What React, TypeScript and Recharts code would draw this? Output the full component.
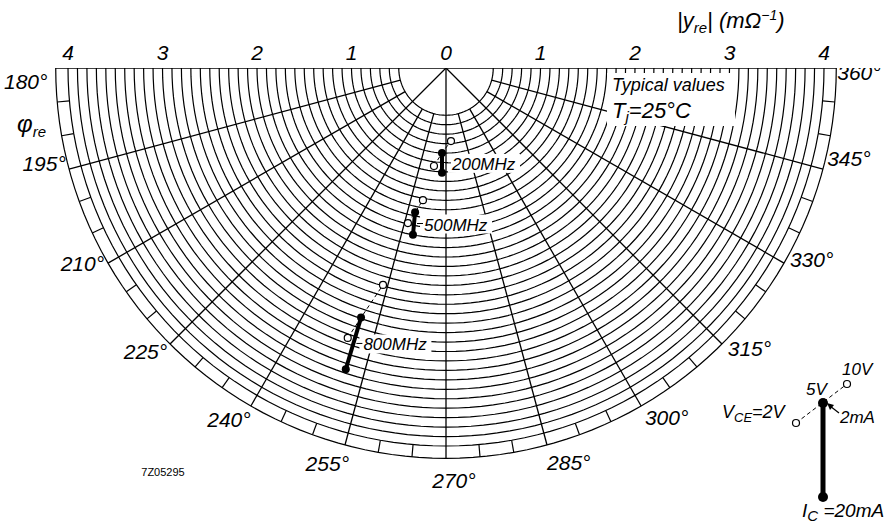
import React from "react";
import { ScatterChart, Scatter, XAxis, YAxis } from "recharts";

// |y_re| grid rings (mS), angle spokes and scale ticks
const ringRadii = [
  0.5, 0.6, 0.7, 0.8, 0.9, 1.0, 1.1, 1.2, 1.3, 1.4, 1.5, 1.6, 1.7, 1.8, 1.9,
  2.0, 2.1, 2.2, 2.3, 2.4, 2.5, 2.6, 2.7, 2.8, 2.9, 3.0, 3.1, 3.2, 3.3, 3.4,
  3.5, 3.6, 3.7, 3.8, 3.9, 4.0,
];
const scaleRing = 4.13;
const spokeAngles = [195, 210, 225, 240, 255, 270, 285, 300, 315, 330, 345];
const centreSpokes = [225, 270, 315];
const bandTicks = [
  185, 190, 200, 205, 215, 220, 230, 235, 245, 250, 260, 265, 275, 280, 290,
  295, 305, 310, 320, 325, 335, 340, 350, 355,
];
const angleLabels = [180, 195, 210, 225, 240, 255, 270, 285, 300, 315, 330, 345, 360];
const magTicks = [-4, -3, -2, -1, 0, 1, 2, 3, 4];

// measured points: magnitude (mS) and phase (deg) per frequency
const frequencies = ["200MHz", "500MHz", "800MHz"];
const magV2 = [1.045, 1.69, 3.04];
const angV2 = [263.0, 256.2, 250.0];
const magV5I2 = [0.9, 1.56, 2.79];
const angV5I2 = [267.3, 257.9, 251.2];
const magV10 = [0.775, 1.42, 2.39];
const angV10 = [273.9, 260.1, 253.8];
const magI20 = [1.11, 1.8, 3.36];
const angI20 = [267.8, 258.8, 251.6];

const W = 896;
const H = 528;
const CX = 446;
const CY = 68;
const PX = 94.5;
const FONT = "'Liberation Sans', Arial, sans-serif";

const toXY = (r: number, deg: number) => ({
  x: r * Math.cos((deg * Math.PI) / 180),
  y: r * Math.sin((deg * Math.PI) / 180),
});

const arc = (r: number) => {
  const pts = [];
  for (let a = 180; a <= 360; a += 2) pts.push(toXY(r, a));
  return pts;
};

const noShape = () => <g />;
const thin = { stroke: "#000", strokeWidth: 1.2 };

const labelOffset = (a: number) =>
  a === 180 ? 1.9 : a === 360 ? -0.6 : a < 270 ? -1.7 : a > 270 ? 2.3 : 1.1;

const angleLabelData = angleLabels.map((a) => ({
  ...toXY(a === 180 ? 4.45 : 4.37, a + labelOffset(a)),
  text: `${a}°`,
}));

const series = frequencies.map((f, i) => {
  const p2 = toXY(magV2[i], angV2[i]);
  const p5 = toXY(magV5I2[i], angV5I2[i]);
  const p10 = toXY(magV10[i], angV10[i]);
  const p20 = toXY(magI20[i], angI20[i]);
  return {
    name: f,
    dashed: [
      { ...p2, open: true },
      { ...p5, open: false },
      { ...p10, open: true },
    ],
    thick: [p5, p20],
    note: { x: (p5.x + p20.x) / 2, y: (p5.y + p20.y) / 2, text: f },
  };
});

const AngleText = (p: any) => (
  <text
    x={p.cx}
    y={p.cy}
    textAnchor="middle"
    dominantBaseline="central"
    fontSize={21}
    fontStyle="italic"
    fontFamily={FONT}
    fill="#000"
  >
    {p.payload.text}
  </text>
);

const OpenDot = (p: any) =>
  p.payload.open ? (
    <circle cx={p.cx} cy={p.cy} r={3.5} fill="#fff" stroke="#000" strokeWidth={1.2} />
  ) : (
    <g />
  );

const FilledDot = (p: any) => <circle cx={p.cx} cy={p.cy} r={4} fill="#000" />;

const FreqNote = (p: any) => (
  <g>
    <rect x={p.cx + 6} y={p.cy - 9} width={72} height={19} fill="#fff" />
    <line x1={p.cx + 3} x2={p.cx + 9} y1={p.cy} y2={p.cy} stroke="#000" />
    <text
      x={p.cx + 10}
      y={p.cy + 7}
      fontSize={17}
      fontStyle="italic"
      fontFamily={FONT}
      fill="#000"
    >
      {p.payload.text}
    </text>
  </g>
);

const txt = { fontFamily: FONT, fontStyle: "italic" as const, fill: "#000" };

export default function App() {
  return (
    <div
      style={{
        position: "absolute",
        left: 0,
        top: 0,
        width: W,
        height: H,
        background: "#fff",
      }}
    >
      <ScatterChart width={W} height={H} margin={{ top: 0, right: 0, bottom: 0, left: 0 }}>
        <XAxis
          type="number"
          dataKey="x"
          orientation="top"
          height={CY}
          domain={[-CX / PX, (W - CX) / PX]}
          allowDataOverflow
          ticks={magTicks}
          interval={0}
          tickFormatter={(v: number) => String(Math.abs(v))}
          tickLine={false}
          axisLine={false}
          tick={{ fill: "#000", fontSize: 21, fontStyle: "italic", fontFamily: FONT }}
        />
        <YAxis
          type="number"
          dataKey="y"
          hide
          domain={[-(H - CY) / PX, 0]}
          allowDataOverflow
        />
        {ringRadii.map((r) => (
          <Scatter
            key={`ring${r}`}
            data={arc(r)}
            line={thin}
            shape={noShape}
            isAnimationActive={false}
          />
        ))}
        <Scatter data={arc(scaleRing)} line={thin} shape={noShape} isAnimationActive={false} />
        <Scatter
          data={[toXY(scaleRing, 180), toXY(scaleRing, 360)]}
          line={{ stroke: "#000", strokeWidth: 1.4 }}
          shape={noShape}
          isAnimationActive={false}
        />
        {spokeAngles.map((a) => (
          <Scatter
            key={`spoke${a}`}
            data={[toXY(centreSpokes.includes(a) ? 0 : 0.5, a), toXY(scaleRing, a)]}
            line={{ stroke: "#000", strokeWidth: 1.3 }}
            shape={noShape}
            isAnimationActive={false}
          />
        ))}
        {bandTicks.map((a) => (
          <Scatter
            key={`tick${a}`}
            data={[toXY(4.0, a), toXY(scaleRing, a)]}
            line={thin}
            shape={noShape}
            isAnimationActive={false}
          />
        ))}
        <Scatter data={angleLabelData} shape={AngleText} isAnimationActive={false} />
        <Scatter
          data={series.map((s) => s.note)}
          shape={FreqNote}
          isAnimationActive={false}
        />
        {series.map((s) => (
          <Scatter
            key={`d${s.name}`}
            data={s.dashed}
            line={{ stroke: "#000", strokeWidth: 1, strokeDasharray: "4 3" }}
            shape={OpenDot}
            isAnimationActive={false}
          />
        ))}
        {series.map((s) => (
          <Scatter
            key={`t${s.name}`}
            data={s.thick}
            line={{ stroke: "#000", strokeWidth: 4 }}
            shape={FilledDot}
            isAnimationActive={false}
          />
        ))}
      </ScatterChart>

      <svg
        width={W}
        height={H}
        style={{ position: "absolute", left: 0, top: 0, pointerEvents: "none" }}
      >
        <text x={677} y={28} fontSize={22} {...txt}>
          |y
          <tspan dy={5} fontSize={15}>re</tspan>
          <tspan dy={-5}>| (mΩ</tspan>
          <tspan dy={-8} fontSize={14}>−1</tspan>
          <tspan dy={8}>)</tspan>
        </text>

        <text x={17} y={132} fontSize={24} {...txt}>
          φ
          <tspan dy={5} fontSize={15}>re</tspan>
        </text>

        <rect x={607} y={73} width={128} height={53} fill="#fff" />
        <text x={612} y={91} fontSize={18} {...txt}>
          Typical values
        </text>
        <text x={612} y={118} fontSize={22} {...txt}>
          T<tspan dy={4} fontSize={15}>j</tspan>
          <tspan dy={-4}>=25°C</tspan>
        </text>

        <text x={163} y={476} fontSize={11} textAnchor="middle" fontFamily={FONT} fill="#000">
          7Z05295
        </text>

        {/* bias key */}
        <line x1={796} y1={423} x2={847} y2={384} stroke="#000" strokeDasharray="4 3" />
        <circle cx={796} cy={423} r={3.5} fill="#fff" stroke="#000" strokeWidth={1.2} />
        <circle cx={847} cy={384} r={3.5} fill="#fff" stroke="#000" strokeWidth={1.2} />
        <line x1={823} y1={403} x2={823} y2={497} stroke="#000" strokeWidth={5} />
        <circle cx={823} cy={403} r={5} fill="#000" />
        <circle cx={823} cy={497} r={5} fill="#000" />
        <line x1={839} y1={413} x2={830} y2={406} stroke="#000" strokeWidth={1.2} />
        <polygon points="827,403 834,405 830,410" fill="#000" />
        <text x={842} y={375} fontSize={17} {...txt}>10V</text>
        <text x={806} y={395} fontSize={17} {...txt}>5V</text>
        <text x={722} y={418} fontSize={18} {...txt}>
          V<tspan dy={4} fontSize={13}>CE</tspan>
          <tspan dy={-4}>=2V</tspan>
        </text>
        <text x={840} y={423} fontSize={17} {...txt}>2mA</text>
        <text x={802} y={517} fontSize={19} {...txt}>
          I<tspan dy={4} fontSize={15}>C</tspan>
          <tspan dy={-4}> =20mA</tspan>
        </text>
      </svg>
    </div>
  );
}
